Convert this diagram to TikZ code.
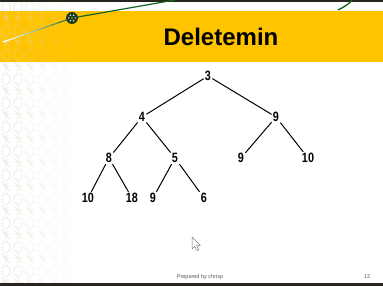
\documentclass[tikz,border=0pt]{standalone}
\usepackage{fontspec}
\setmainfont{Liberation Sans}
\newfontfamily\narrowfont[FakeStretch=0.8]{Liberation Sans}
\usetikzlibrary{calc}

\definecolor{banner}{RGB}{255,195,0}
\definecolor{frame}{RGB}{40,36,30}
\definecolor{leaf}{RGB}{20,100,30}
\definecolor{tile}{RGB}{222,216,196}

\begin{document}
\begin{tikzpicture}[x=1pt,y=-1pt]
	\tikzset{key/.style = {inner sep=1.2pt, font=\narrowfont\bfseries\fontsize{13.5}{14}\selectfont}}
	\tikzset{link/.style = {line width=1pt}}
	\useasboundingbox (0,0) rectangle (383,286);
	\fill[white] (0,0) rectangle (383,286);
	% title band
	\fill[banner] (0,11) rectangle (383,62);
	% tiled strip on the left
	\foreach \i in {0,...,11} {
		\foreach \j in {0,...,5} {
			\pgfmathsetmacro{\op}{0.6-0.09*\j}
			\draw[tile, line width=0.6pt, opacity=\op]
				($(2+12*\j,4+24*\i)$) -- ++(4,-3) -- ++(4,3) -- ++(0,6) -- ++(-4,3) -- ++(-4,-3) -- cycle
				($(6+12*\j,14+24*\i)$) -- ++(0,9) ++(-4,-5) -- ++(8,0)
				($(2+12*\j,14+24*\i)$) -- ++(8,9);
		}
	}
	\draw[frame, line width=2pt] (0,1) -- (383,1);
	\fill[frame] (0,283) rectangle (383,286);
	% green strands
	\foreach \t in {0,...,9} {
		\pgfmathsetmacro{\mix}{10*\t}
		\draw[leaf!\mix!white, line width=1.2pt]
			($(3,42)!\t/10!(72,18)$) -- ($(3,42)!\t/10+0.1!(72,18)$);
	}
	\draw[leaf, line width=1.2pt] (72,18) -- (175,0);
	\draw[leaf, line width=1.4pt] (338,10) .. controls (346,6) and (350,3) .. (352,0);
	\fill[frame!60!leaf] (72,18) circle (6);
	\foreach \a in {0,60,...,300}
		\fill[white] ($(72,18)+(\a:3.2)$) circle (0.7);
	\fill[white] (72,18) circle (0.7);
	\node[font=\bfseries\fontsize{24}{26}\selectfont] (title) at (221,37) {Deletemin};
	% heap after the minimum is removed
	\node[key] (root) at (208,76) {3};
	\node[key] (l) at (142,117) {4};
	\node[key] (r) at (276,117) {9};
	\node[key] (ll) at (109,158) {8};
	\node[key] (lr) at (175,158) {5};
	\node[key] (rl) at (241,158) {9};
	\node[key] (rr) at (308,158) {10};
	\node[key] (lll) at (88,198) {10};
	\node[key] (llr) at (132,198) {18};
	\node[key] (lrl) at (153,198) {9};
	\node[key] (lrr) at (204,198) {6};
	\draw[link] (root) -- (l);
	\draw[link] (root) -- (r);
	\draw[link] (l) -- (ll);
	\draw[link] (l) -- (lr);
	\draw[link] (r) -- (rl);
	\draw[link] (r) -- (rr);
	\draw[link] (ll) -- (lll);
	\draw[link] (ll) -- (llr);
	\draw[link] (lr) -- (lrl);
	\draw[link] (lr) -- (lrr);
	% pointer
	\draw[gray, fill=white, line width=0.5pt, line join=round]
		(192,237) -- (192,249) -- (194.8,246.4) -- (197,250.6) -- (198.8,249.8) -- (196.6,245.6) -- (200.4,245.4) -- cycle;
	\node[gray!70!black, font=\fontsize{5.5}{6}\selectfont] (footer) at (200,277) {Prepared by chrisp};
	\node[gray!70!black, font=\fontsize{5.5}{6}\selectfont] (page) at (367,277) {12};
\end{tikzpicture}
\end{document}
